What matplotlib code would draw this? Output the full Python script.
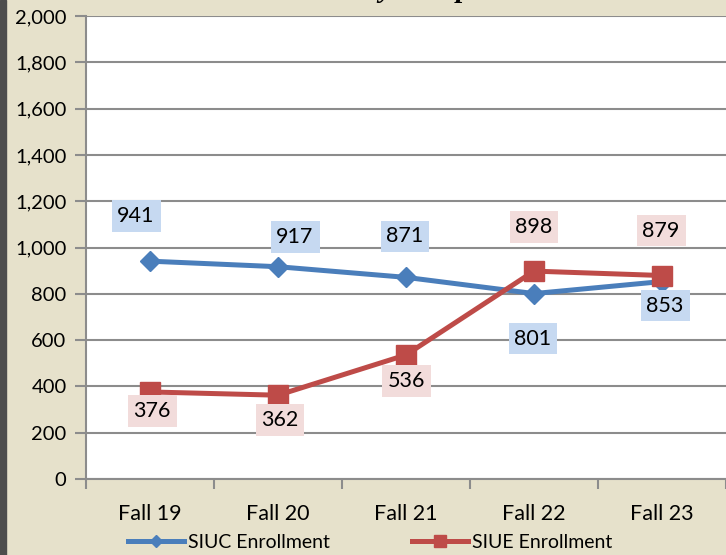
import matplotlib.pyplot as plt
from matplotlib.patches import Rectangle
from matplotlib.lines import Line2D

categories = ['Fall 19', 'Fall 20', 'Fall 21', 'Fall 22', 'Fall 23']
siuc = [941, 917, 871, 801, 853]
siue = [376, 362, 536, 898, 879]

# label box offsets from the point, in pixels (dx, dy up)
siuc_off = [(-14, 45), (17, 30), (-1, 41), (-1, -45), (3, -24)]
siue_off = [(2, -19), (2, -25), (0, -26), (0, 44), (-1, 45)]

plt.rcParams['font.family'] = ['Lato', 'DejaVu Sans']

bg = '#E6E1CB'
blue = '#4A7EBB'
red = '#BE4B48'
px = 0.72  # points per pixel at 100 dpi

fig = plt.figure(figsize=(7.26, 5.55), dpi=100, facecolor=bg)
fig.patches.append(Rectangle((0, 0), 6 / 726, 1, transform=fig.transFigure,
                             color='#4D4D4D', zorder=0))
ax = fig.add_axes([86 / 726, 1 - 479 / 555, 1 - 86 / 726, 463 / 555])
ax.set_facecolor('white')

x = list(range(len(categories)))
ax.plot(x, siuc, color=blue, lw=3.6, marker='D', ms=10.5, zorder=3)
ax.plot(x, siue, color=red, lw=3.6, marker='s', ms=14, zorder=4)

for xi, v, (dx, dy) in zip(x, siuc, siuc_off):
    ax.annotate(f'{v:,}', (xi, v), xytext=(dx * px, dy * px), textcoords='offset points',
                ha='center', va='center', fontsize=15.5, zorder=5,
                bbox=dict(boxstyle='square,pad=0.27', fc='#C6D9F1', ec='none'))
for xi, v, (dx, dy) in zip(x, siue, siue_off):
    ax.annotate(f'{v:,}', (xi, v), xytext=(dx * px, dy * px), textcoords='offset points',
                ha='center', va='center', fontsize=15.5, zorder=5,
                bbox=dict(boxstyle='square,pad=0.27', fc='#F2DCDB', ec='none'))

ax.set_xlim(-0.5, len(categories) - 0.5)
ax.set_ylim(0, 2000)
ax.set_yticks(range(0, 2001, 200))
ax.set_yticklabels([f'{v:,}' for v in range(0, 2001, 200)])
ax.set_xticks(x)
ax.set_xticklabels(categories)
ax.set_xticks([i - 0.5 for i in range(len(categories) + 1)], minor=True)
ax.tick_params(axis='x', which='major', length=0, pad=18, labelsize=15.5)
ax.tick_params(axis='x', which='minor', length=7, color='#8C8C8C', width=1.5)
ax.tick_params(axis='y', length=8, color='#8C8C8C', width=1.5, labelsize=14.5, pad=6)
ax.grid(axis='y', color='#8C8C8C', lw=1.5)
ax.set_axisbelow(True)
for s in ['top', 'right']:
    ax.spines[s].set_visible(False)
ax.spines['left'].set_color('#8C8C8C')
ax.spines['left'].set_linewidth(1.5)
ax.spines['bottom'].set_color('#8C8C8C')
ax.spines['bottom'].set_linewidth(1.5)

handles = [Line2D([], [], color=blue, lw=3.6, marker='D', ms=6),
           Line2D([], [], color=red, lw=3.6, marker='s', ms=8)]
fig.legend(handles, ['SIUC Enrollment', 'SIUE Enrollment'], loc='center',
           bbox_to_anchor=(370 / 726, 1 - 542 / 555), ncol=2, frameon=False,
           fontsize=14, handlelength=2.9, columnspacing=4.2, handletextpad=0.2,
           borderaxespad=0, borderpad=0)

# title sits mostly above the visible area, only its descenders show
fig.text(360 / 726, 1 + 3 / 555, 'Enrollment by Campus', ha='center', va='baseline',
         fontsize=21, fontweight='bold', fontstyle='italic',
         family=['Liberation Serif', 'DejaVu Serif'])

fig.savefig('out.png', dpi=100, facecolor=bg)
